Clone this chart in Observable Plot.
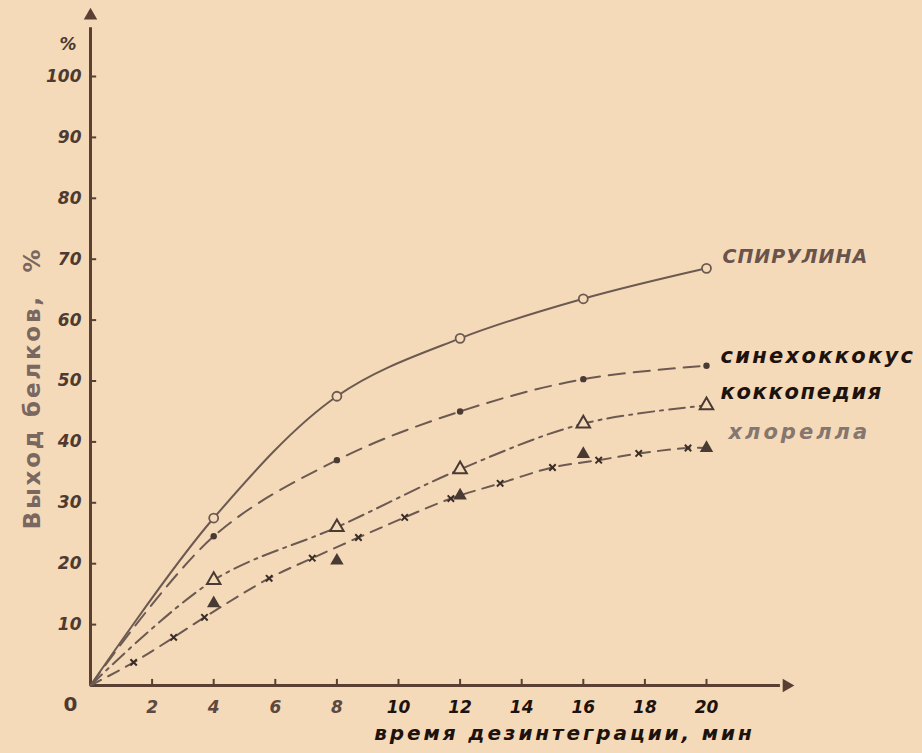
<!DOCTYPE html>
<html><head><meta charset="utf-8">
<script src="https://cdn.jsdelivr.net/npm/d3@7"></script>
<script src="https://cdn.jsdelivr.net/npm/@observablehq/plot@0.6"></script>
<style>
html,body{margin:0;padding:0;background:#f4dab9;}
#chart{width:922px;height:753px;}
.xtitle text{letter-spacing:2.9px;}
.ytitle text{letter-spacing:2.8px;}
.lab-spir text{letter-spacing:1px;}
.lab-syn text{letter-spacing:2.3px;}
.lab-kok text{letter-spacing:1.7px;}
.lab-chl text{letter-spacing:3px;}
</style>
</head><body><div id="chart"></div>
<script>
// measurement times, min
const minutes = [0, 4, 8, 12, 16, 20];
// protein yield, %
const spirulina  = [0, 27.5, 47.5, 57, 63.5, 68.5];
const synecho    = [0, 24.5, 37, 45, 50.3, 52.5];
const coccopedia = [0, 17.3, 26, 35.5, 43, 46];
const chlorella  = [null, 13.5, 20.5, 31.2, 38, 39];
// crosses drawn along the chlorella curve
const chlorellaCrossX = [0, 1.4, 2.7, 3.7, 5.8, 7.2, 8.7, 10.2, 11.7, 13.3, 15, 16.5, 17.8, 19.4, 20];
const chlorellaCrossY = [0, 3.8, 7.9, 11.2, 17.6, 20.9, 24.3, 27.6, 30.7, 33.2, 35.8, 37, 38.1, 39, 39];
const seriesNames = ["СПИРУЛИНА", "синехоккокус", "коккопедия", "хлорелла"];
const xTicks = [2, 4, 6, 8, 10, 12, 14, 16, 18, 20];
const yTicks = [10, 20, 30, 40, 50, 60, 70, 80, 90, 100];
const xTitle = "время дезинтеграции, мин";
const yTitle = "Выход белков,  %";

const pts = ys => minutes.map((m, i) => ({x: m, y: ys[i]})).filter(d => d.y != null);
const spir = pts(spirulina), syn = pts(synecho), kok = pts(coccopedia), chl = pts(chlorella);
const crosses = chlorellaCrossX.map((x, i) => ({x, y: chlorellaCrossY[i]}));

const bg = "#f4dab9";
const ink = "#5a3f33";
const lineInk = "#6c5a52";
const font = "'DejaVu Sans', sans-serif";
const lastOf = a => [a[a.length - 1]];

const labelStyle = {x: "x", y: "y", textAnchor: "start", fontSize: 21, fontWeight: "bold", fontStyle: "italic"};

const chart = Plot.plot({
  width: 922, height: 753,
  marginLeft: 90, marginRight: 216, marginTop: 76, marginBottom: 68,
  x: {domain: [0, 20]},
  y: {domain: [0, 100]},
  style: {background: "transparent", fontFamily: font, overflow: "visible"},
  marks: [
    // axes with arrowheads
    Plot.ruleX([0], {x: d => d, y1: 0, y2: 108, stroke: ink, strokeWidth: 3}),
    Plot.ruleY([0], {y: d => d, x1: 0, x2: 22.4, stroke: ink, strokeWidth: 3}),
    Plot.dot([{x: 0, y: 110}], {x: "x", y: "y", symbol: "triangle", r: 5, fill: ink, stroke: "none"}),
    Plot.dot([{x: 22.6, y: 0}], {x: "x", y: "y", symbol: "triangle", r: 5, rotate: 90, fill: ink, stroke: "none"}),
    // tick marks (inward)
    Plot.ruleY(yTicks, {y: d => d, x1: 0, x2: 0.2, stroke: ink, strokeWidth: 2}),
    Plot.ruleX(xTicks, {x: d => d, y1: 0, y2: 1, stroke: ink, strokeWidth: 2}),
    // tick labels
    Plot.axisY(yTicks, {tickSize: 0, tickPadding: 9, fontSize: 17, fontStyle: "italic", fontWeight: "bold", fill: "#4e3a31", label: null}),
    Plot.axisX(xTicks.filter(d => d < 10), {tickSize: 0, tickPadding: 15, fontSize: 17, fontStyle: "italic", fontWeight: "bold", fill: "#5b4840", label: null}),
    Plot.axisX(xTicks.filter(d => d >= 10), {tickSize: 0, tickPadding: 15, fontSize: 17, fontStyle: "italic", fontWeight: "bold", fill: "#1d120e", label: null}),
    Plot.text(["0"], {frameAnchor: "bottom-left", dx: -27, dy: 25, fontSize: 20, fontWeight: "bold", fill: "#4e3a31"}),
    Plot.text(["%"], {frameAnchor: "top-left", dx: -31, dy: -39, fontSize: 17, fontStyle: "italic", fontWeight: "bold", fill: "#4e3a31"}),
    // titles
    Plot.text([xTitle], {className: "xtitle", frameAnchor: "bottom", textAnchor: "middle", dx: 166, dy: 54, fontSize: 20, fontWeight: "bold", fontStyle: "italic", fill: "#1d120e"}),
    Plot.text([yTitle], {className: "ytitle", frameAnchor: "left", textAnchor: "middle", dx: -58, dy: 7, rotate: -90, fontSize: 23, fontWeight: "bold", fill: "#7a675f"}),
    // curves
    Plot.line(spir, {x: "x", y: "y", curve: "catmull-rom", stroke: lineInk, strokeWidth: 2}),
    Plot.line(syn, {x: "x", y: "y", curve: "catmull-rom", stroke: lineInk, strokeWidth: 2, strokeDasharray: "16,9"}),
    Plot.line(kok, {x: "x", y: "y", curve: "catmull-rom", stroke: lineInk, strokeWidth: 2, strokeDasharray: "16,6,3,6"}),
    Plot.line(crosses, {x: "x", y: "y", curve: "catmull-rom", stroke: lineInk, strokeWidth: 2, strokeDasharray: "12,8"}),
    // markers
    Plot.dot(spir.slice(1), {x: "x", y: "y", r: 4.5, fill: bg, stroke: lineInk, strokeWidth: 1.8}),
    Plot.dot(syn.slice(1), {x: "x", y: "y", r: 3.2, fill: "#4a3a34", stroke: "none"}),
    Plot.dot(kok.slice(1), {x: "x", y: "y", symbol: "triangle", r: 5, fill: bg, stroke: "#4a3a34", strokeWidth: 2}),
    Plot.dot(chl, {x: "x", y: "y", symbol: "triangle", r: 5, fill: "#4a3a34", stroke: "none"}),
    Plot.dot(crosses.slice(1, -1), {x: "x", y: "y", symbol: "times", r: 3, stroke: "#3a2c26", strokeWidth: 2}),
    // series labels
    Plot.text(lastOf(spir), {...labelStyle, className: "lab-spir", text: () => seriesNames[0], dx: 16, dy: -11, fontSize: 19, fill: "#6a534c"}),
    Plot.text(lastOf(syn),  {...labelStyle, className: "lab-syn", text: () => seriesNames[1], dx: 14, dy: -10, fill: "#1d120e"}),
    Plot.text(lastOf(kok),  {...labelStyle, className: "lab-kok", text: () => seriesNames[2], dx: 14, dy: -13, fill: "#1d120e"}),
    Plot.text(lastOf(chl),  {...labelStyle, className: "lab-chl", text: () => seriesNames[3], dx: 22, dy: -16, fill: "#867670"})
  ]
});
document.getElementById("chart").append(chart);
</script>
</body></html>
